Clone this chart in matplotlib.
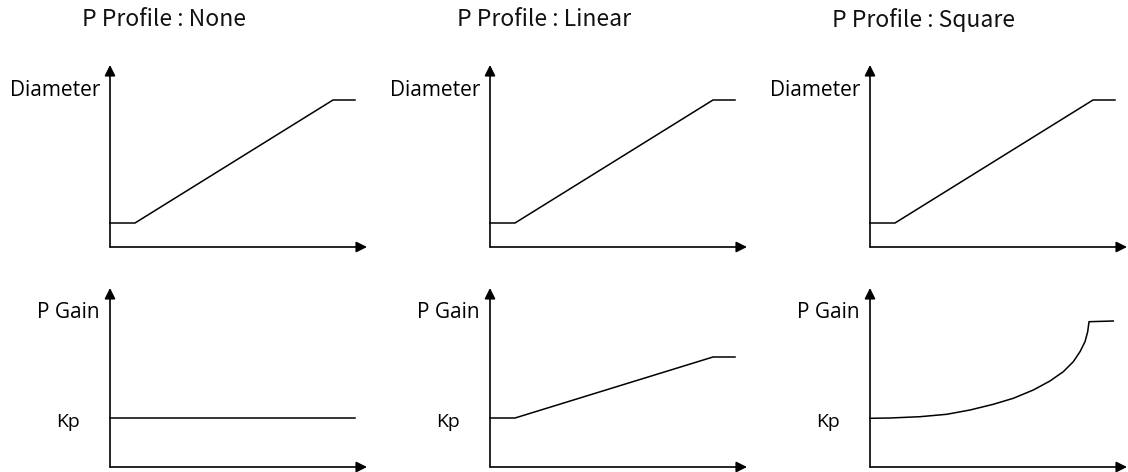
import matplotlib
matplotlib.use("Agg")
import matplotlib.pyplot as plt

# diagram values (px offsets from each panel's origin)
titles = ["P Profile : None", "P Profile : Linear", "P Profile : Square"]

dia_x = [0, 25, 223, 245]
dia_y = [24, 24, 147, 147]

gain_none_x = [0, 245]
gain_none_y = [49, 49]

gain_lin_x = [0, 25, 223, 245]
gain_lin_y = [49, 49, 110, 110]

gain_sq_x = [0, 20, 50, 76.7, 100, 123.3, 143.3, 163.3, 180, 193.3, 203.3, 210,
             215, 217.7, 219, 243.3]
gain_sq_y = [48.7, 49, 50.3, 52.7, 57, 62.7, 68.7, 77, 86, 95.3, 105.3, 115.3,
             125.3, 135.3, 145.3, 146]

gains = [(gain_none_x, gain_none_y), (gain_lin_x, gain_lin_y), (gain_sq_x, gain_sq_y)]

W, H = 1128, 472
panel_left = [110, 490, 870]
aw = 257  # axis length (to arrow tip)

fig = plt.figure(figsize=(W / 100, H / 100), dpi=100)
lab_font = "Open Sans"
title_font = ["Noto Sans CJK KR", "DejaVu Sans"]


def make_ax(x0, ybot, h):
    ax = fig.add_axes([x0 / W, (H - ybot) / H, aw / W, h / H])
    ax.set_xlim(0, aw)
    ax.set_ylim(0, h)
    ax.set_axis_off()
    arrow = dict(arrowstyle="-|>", mutation_scale=16, color="black", lw=1.2,
                 shrinkA=0, shrinkB=0)
    ax.annotate("", xy=(0, h), xytext=(0, 0), arrowprops=arrow, annotation_clip=False)
    ax.annotate("", xy=(aw, 0), xytext=(0, 0), arrowprops=arrow, annotation_clip=False)
    return ax


for i, x0 in enumerate(panel_left):
    fig.text((x0 + 54) / W, 1 - 20 / H, titles[i], ha="center", va="center",
             fontsize=16.5, family=title_font, color="#111111")

    top = make_ax(x0, 247, 182)
    top.plot(dia_x, dia_y, color="black", lw=1.1, clip_on=False)
    top.text(-10, 157, "Diameter", ha="right", va="center", fontsize=15,
             family=lab_font, clip_on=False)

    bot = make_ax(x0, 467, 179)
    gx, gy = gains[i]
    bot.plot(gx, gy, color="black", lw=1.1, clip_on=False)
    bot.text(-10, 154, "P Gain", ha="right", va="center", fontsize=15,
             family=lab_font, clip_on=False)
    bot.text(-30, 45, "Kp", ha="right", va="center", fontsize=14,
             family=lab_font, clip_on=False)

fig.savefig("out.png", dpi=100)
